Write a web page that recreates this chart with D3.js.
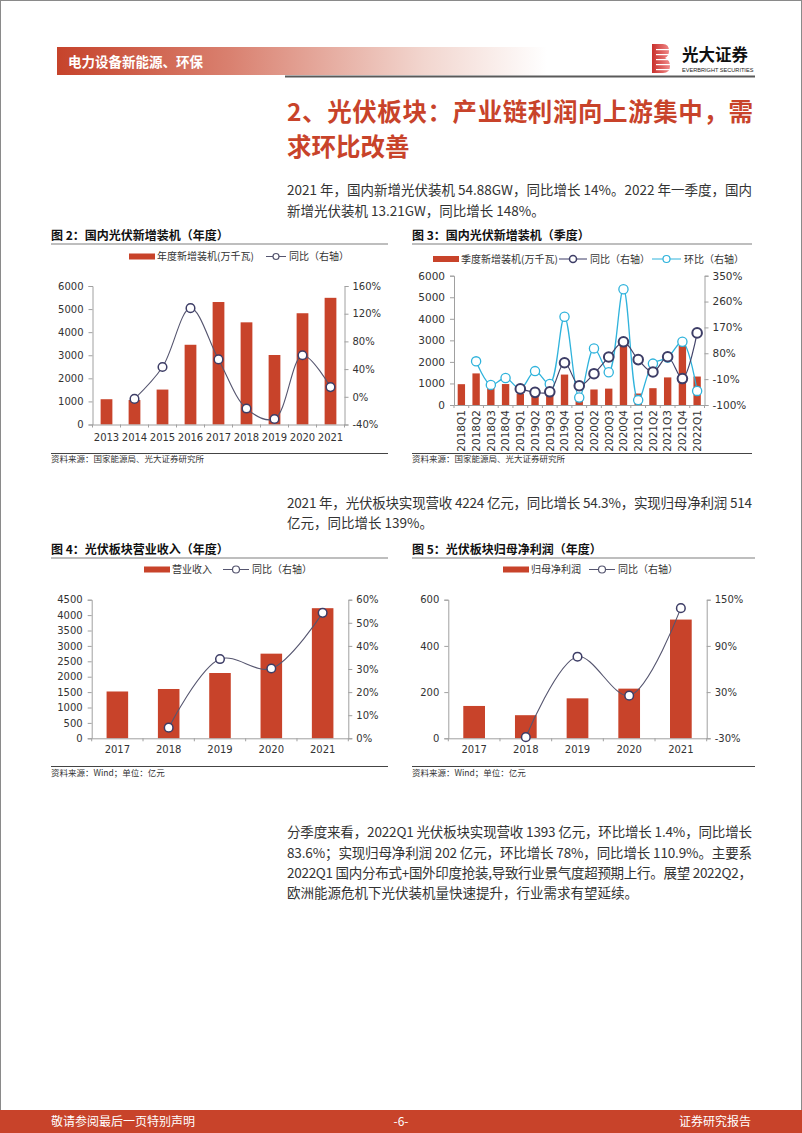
<!DOCTYPE html>
<html><head><meta charset="utf-8">
<script src="https://cdn.jsdelivr.net/npm/d3@7"></script>
<style>
html,body{margin:0;padding:0;background:#fff;}
svg{display:block;}
</style></head>
<body>
<svg id="page" width="802" height="1133"></svg>
<script>
// ---------- DATA ----------
const fig2Years = ['2013','2014','2015','2016','2017','2018','2019','2020','2021'];
const fig2Install = [1095,1060,1513,3454,5306,4426,3011,4820,5488];
const fig2Yoy = [null,-3,43,128,54,-17,-32,60,14];
const fig2LeftTicks = [0,1000,2000,3000,4000,5000,6000];
const fig2RightTicks = [-40,0,40,80,120,160];

const fig3Quarters = ['2018Q1','2018Q2','2018Q3','2018Q4','2019Q1','2019Q2','2019Q3','2019Q4','2020Q1','2020Q2','2020Q3','2020Q4','2021Q1','2021Q2','2021Q3','2021Q4','2022Q1'];
const fig3Install = [966,1466,1024,972,520,620,460,1412,395,720,760,2950,533,780,1280,2750,1321];
const fig3Yoy = [null,null,null,null,-44,-56,-54,47,-33,9,67,120,58,15,68,-8,151];
const fig3Qoq = [null,52,-30,-6,-44,18,-27,207,-74,97,14,303,-83,44,65,120,-51];
const fig3LeftTicks = [0,1000,2000,3000,4000,5000,6000];
const fig3RightTicks = [-100,-10,80,170,260,350];

const fig4Years = ['2017','2018','2019','2020','2021'];
const fig4Revenue = [1520,1601,2120,2748,4224];
const fig4Yoy = [null,4.6,34.3,30.2,54.3];
const fig4LeftTicks = [0,500,1000,1500,2000,2500,3000,3500,4000,4500];
const fig4RightTicks = [0,10,20,30,40,50,60];

const fig5Years = ['2017','2018','2019','2020','2021'];
const fig5Profit = [140,100,173,215,514];
const fig5Yoy = [null,-28.5,76,25.4,139];
const fig5LeftTicks = [0,200,400,600];
const fig5RightTicks = [-30,30,90,150];

// ---------- STYLE ----------
const RED = '#c8432a';
const NAVY = '#3d3d66';
const CYAN = '#2fb3dc';
const AXIS = '#a0a0a0';
const CJK = '"Noto Sans CJK SC","Noto Sans",sans-serif';
const NUM = '"DejaVu Sans",Verdana,sans-serif';

const svg = d3.select('#page');

// page frame
svg.append('rect').attr('x',0.5).attr('y',0.5).attr('width',801).attr('height',1132)
  .attr('fill','none').attr('stroke','#8a8a8a');

// ---------- HEADER ----------
const defs = svg.append('defs');
const g1 = defs.append('linearGradient').attr('id','hdr').attr('x1','0').attr('x2','1').attr('y1','0').attr('y2','0');
g1.append('stop').attr('offset','0').attr('stop-color','#c6432b');
g1.append('stop').attr('offset','0.35').attr('stop-color','#d9806f');
g1.append('stop').attr('offset','0.75').attr('stop-color','#f2d6cf');
g1.append('stop').attr('offset','1').attr('stop-color','#ffffff');
svg.append('rect').attr('x',57).attr('y',47).attr('width',490).attr('height',28).attr('fill','url(#hdr)');
svg.append('text').attr('x',68).attr('y',66.5).text('电力设备新能源、环保')
  .attr('font-family',CJK).attr('font-size',13.5).attr('font-weight','bold').attr('fill','#fff');
svg.append('rect').attr('x',285).attr('y',75.5).attr('width',470).attr('height',2).attr('fill','#5a5a5a');

// logo
const lg = svg.append('g').attr('transform','translate(652,44)');
const lgGrad = defs.append('linearGradient').attr('id','lg').attr('x1','0').attr('x2','1').attr('y1','0').attr('y2','0');
lgGrad.append('stop').attr('offset','0').attr('stop-color','#c9302c');
lgGrad.append('stop').attr('offset','1').attr('stop-color','#f08a8a');
lg.append('path').attr('d','M0,0 H11 Q17,0 17,7 Q17,12 13,14 Q18,16 18,22 Q18,29 11,29 H0 Z').attr('fill','url(#lg)');
[5,10,15,20,25].forEach(y=>lg.append('rect').attr('x',4).attr('y',y).attr('width',16).attr('height',1.2).attr('fill','#fff'));
svg.append('text').attr('x',682).attr('y',61).text('光大证券')
  .attr('font-family',CJK).attr('font-size',16.5).attr('font-weight','bold').attr('fill','#111');
svg.append('text').attr('x',682).attr('y',71.5).text('EVERBRIGHT SECURITIES')
  .attr('font-family','"Liberation Sans",Arial,sans-serif').attr('font-size',5.6).attr('fill','#222');

// ---------- TITLE & TEXT ----------
function txt(x,y,s,opt){
  const t = svg.append('text').attr('x',x).attr('y',y).text(s)
    .attr('font-family',CJK).attr('font-size',opt.size).attr('fill',opt.fill||'#333')
    .attr('font-weight',opt.weight||'normal');
  if(opt.len){ t.attr('textLength',opt.len).attr('lengthAdjust','spacing'); }
  if(opt.anchor) t.attr('text-anchor',opt.anchor);
  return t;
}
txt(287,121,'2、光伏板块：产业链利润向上游集中，需',{size:24.5,fill:RED,weight:'bold',len:466});
txt(287,156,'求环比改善',{size:24.5,fill:RED,weight:'bold'});

txt(287,195,'2021 年，国内新增光伏装机 54.88GW，同比增长 14%。2022 年一季度，国内',{size:13.5,len:465});
txt(287,216,'新增光伏装机 13.21GW，同比增长 148%。',{size:13.5});

txt(287,508,'2021 年，光伏板块实现营收 4224 亿元，同比增长 54.3%，实现归母净利润 514',{size:13.5,len:465});
txt(287,528,'亿元，同比增长 139%。',{size:13.5});

txt(287,837,'分季度来看，2022Q1 光伏板块实现营收 1393 亿元，环比增长 1.4%，同比增长',{size:13.5,len:465});
txt(287,857.5,'83.6%；实现归母净利润 202 亿元，环比增长 78%，同比增长 110.9%。主要系',{size:13.5,len:465});
txt(287,878,'2022Q1 国内分布式+国外印度抢装,导致行业景气度超预期上行。展望 2022Q2，',{size:13.5,len:465});
txt(287,898,'欧洲能源危机下光伏装机量快速提升，行业需求有望延续。',{size:13.5});

// ---------- FOOTER ----------
svg.append('rect').attr('x',0).attr('y',1110).attr('width',802).attr('height',23).attr('fill',RED);
txt(51,1126,'敬请参阅最后一页特别声明',{size:12,fill:'#fff'});
txt(401,1126,'-6-',{size:12,fill:'#fff',anchor:'middle'});
txt(751,1126,'证券研究报告',{size:12,fill:'#fff',anchor:'end'});

// ---------- CHART FRAME (title / source) ----------
function frame(x0,x1,titleY,lineY,srcLineY,srcY,title,src){
  txt(x0,titleY,title,{size:12,weight:'bold',fill:'#111'});
  svg.append('line').attr('x1',x0).attr('x2',x1).attr('y1',lineY).attr('y2',lineY).attr('stroke','#a8a8a8').attr('stroke-width',1.5);
  svg.append('line').attr('x1',x0).attr('x2',x1).attr('y1',srcLineY).attr('y2',srcLineY).attr('stroke','#444').attr('stroke-width',1);
  txt(x0,srcY,src,{size:8.5,fill:'#333'});
}
frame(51,388,240,244,453.5,462,'图 2：国内光伏新增装机（年度）','资料来源：国家能源局、光大证券研究所');
frame(412,752,240,244,453.5,462,'图 3：国内光伏新增装机（季度）','资料来源：国家能源局、光大证券研究所');
frame(51,388,553.5,558,766.5,776,'图 4：光伏板块营业收入（年度）','资料来源：Wind；单位：亿元');
frame(412,755,553.5,558,766.5,776,'图 5：光伏板块归母净利润（年度）','资料来源：Wind；单位：亿元');

// ---------- LEGEND ----------
function legendBar(x,y,label){
  svg.append('rect').attr('x',x).attr('y',y-3).attr('width',26).attr('height',6).attr('fill',RED);
  txt(x+28,y+3.5,label,{size:10,fill:'#333'});
}
function legendLine(x,y,label,color,w,r,sw){
  svg.append('line').attr('x1',x).attr('x2',x+w).attr('y1',y).attr('y2',y).attr('stroke',color).attr('stroke-width',1);
  svg.append('circle').attr('cx',x+w/2).attr('cy',y).attr('r',r).attr('fill','#fff').attr('stroke',color).attr('stroke-width',sw);
  txt(x+w+3,y+3.5,label,{size:10,fill:'#333'});
}
legendBar(129,256.5,'年度新增装机(万千瓦)');
legendLine(266,256.5,'同比（右轴）','#55556f',20,3,1.2);
legendBar(433,259,'季度新增装机(万千瓦)');
legendLine(559,259,'同比（右轴）',NAVY,28,3.5,1.5);
legendLine(652,259,'环比（右轴）',CYAN,29,3.5,1.2);
legendBar(144,569.5,'营业收入');
legendLine(223,569.5,'同比（右轴）','#55556f',26,3.5,1.2);
legendBar(503,569.5,'归母净利润');
legendLine(589,569.5,'同比（右轴）','#55556f',26,3.5,1.2);

// ---------- GENERIC COMBO CHART ----------
function combo(cfg){
  const x = d3.scaleBand().domain(cfg.cats).range([cfg.x0,cfg.x1]);
  const yL = d3.scaleLinear().domain(cfg.leftDomain).range([cfg.yB,cfg.yT]);
  const yR = d3.scaleLinear().domain(cfg.rightDomain).range([cfg.yB,cfg.yT]);
  const g = svg.append('g');

  // bars
  const bw = x.bandwidth()*cfg.barFrac;
  g.selectAll('rect.bar').data(cfg.bars).enter().append('rect')
    .attr('x',(d,i)=>x(cfg.cats[i])+(x.bandwidth()-bw)/2)
    .attr('y',d=>yL(d)).attr('width',bw).attr('height',d=>yL(0)-yL(d))
    .attr('fill',RED);

  // left axis
  const la = d3.axisLeft(yL).tickValues(cfg.leftTicks).tickSize(4).tickPadding(cfg.padL||5).tickFormat(d3.format('d'));
  const lag = g.append('g').attr('transform',`translate(${cfg.x0},0)`).call(la);
  // right axis
  const ra = d3.axisRight(yR).tickValues(cfg.rightTicks).tickSize(4).tickPadding(cfg.padR||4).tickFormat(d=>d+'%');
  const rag = g.append('g').attr('transform',`translate(${cfg.x1},0)`).call(ra);
  // bottom axis
  const ba = d3.axisBottom(x).tickSize(0).tickPadding(cfg.padB||8);
  const bag = g.append('g').attr('transform',`translate(0,${cfg.yB})`).call(ba);
  [lag,rag,bag].forEach(a=>{
    a.select('.domain').attr('stroke',AXIS);
    a.selectAll('.tick line').attr('stroke',AXIS);
    a.selectAll('text').attr('font-family',NUM).attr('font-size',cfg.fs||10).attr('fill','#333');
  });
  // category boundary ticks
  g.selectAll('line.bt').data(d3.range(cfg.cats.length+1)).enter().append('line')
    .attr('x1',i=>cfg.x0+i*x.step()).attr('x2',i=>cfg.x0+i*x.step())
    .attr('y1',cfg.yB).attr('y2',cfg.yB+3).attr('stroke',AXIS);
  if(cfg.rotate){
    bag.selectAll('text').attr('transform','rotate(-90)').attr('text-anchor','end')
      .attr('x',-5).attr('y',0).attr('dy','0.36em');
  }

  // lines
  cfg.lines.forEach(L=>{
    const pts = L.values.map((v,i)=>v==null?null:[x(cfg.cats[i])+x.bandwidth()/2, yR(v)]).filter(p=>p);
    g.append('path').attr('d',d3.line().curve(d3.curveCatmullRom.alpha(0.5))(pts))
      .attr('fill','none').attr('stroke',L.color).attr('stroke-width',L.lw);
    g.selectAll(null).data(pts).enter().append('circle')
      .attr('cx',p=>p[0]).attr('cy',p=>p[1]).attr('r',L.r)
      .attr('fill','#fff').attr('stroke',L.mcolor||L.color).attr('stroke-width',L.sw);
  });
}

combo({cats:fig2Years,bars:fig2Install,x0:92.5,x1:344.5,yT:286,yB:424.5,
  leftDomain:[0,6000],rightDomain:[-40,160],leftTicks:fig2LeftTicks,rightTicks:fig2RightTicks,
  barFrac:0.42,padB:9,
  lines:[{values:fig2Yoy,color:'#55556f',mcolor:NAVY,lw:1.1,r:4.3,sw:1.5}]});

combo({cats:fig3Quarters,bars:fig3Install,x0:454,x1:704.5,yT:275.7,yB:405,
  leftDomain:[0,6000],rightDomain:[-100,350],leftTicks:fig3LeftTicks,rightTicks:fig3RightTicks,
  barFrac:0.5,rotate:true,fs:10.5,
  lines:[{values:fig3Qoq,color:CYAN,lw:1.3,r:4.6,sw:1.3},
         {values:fig3Yoy,color:'#44446a',mcolor:NAVY,lw:1.2,r:4.8,sw:2}]});

combo({cats:fig4Years,bars:fig4Revenue,x0:91.7,x1:348.3,yT:599.7,yB:738.3,
  leftDomain:[0,4500],rightDomain:[0,60],leftTicks:fig4LeftTicks,rightTicks:fig4RightTicks,
  barFrac:0.42,padB:8,
  lines:[{values:fig4Yoy,color:'#55556f',mcolor:NAVY,lw:1.1,r:4.3,sw:1.5}]});

combo({cats:fig5Years,bars:fig5Profit,x0:448.3,x1:706.7,yT:599.7,yB:738.3,
  leftDomain:[0,600],rightDomain:[-30,150],leftTicks:fig5LeftTicks,rightTicks:fig5RightTicks,
  barFrac:0.42,padB:8,
  lines:[{values:fig5Yoy,color:'#55556f',mcolor:NAVY,lw:1.1,r:4.3,sw:1.5}]});
</script>
</body></html>
